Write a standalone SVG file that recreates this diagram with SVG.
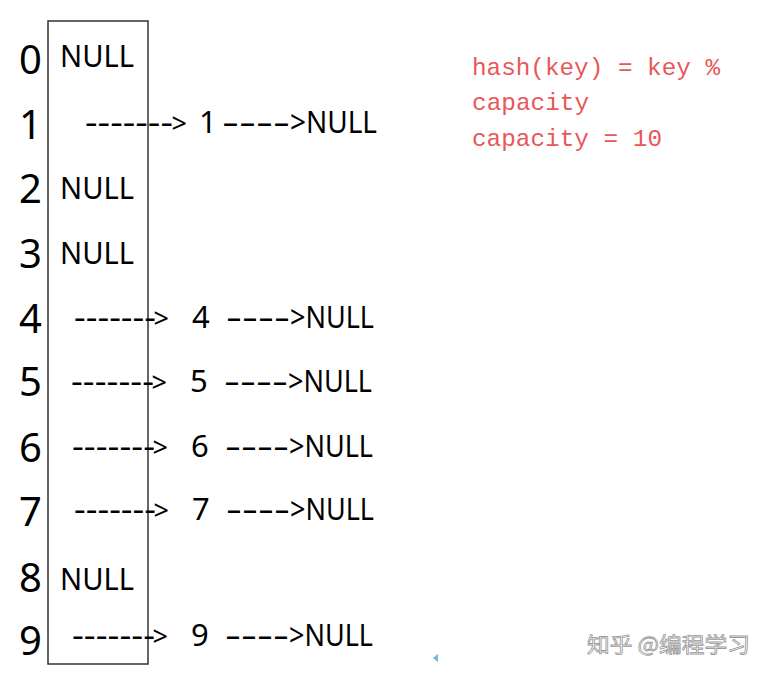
<svg xmlns="http://www.w3.org/2000/svg" width="771" height="675" viewBox="0 0 771 675">
<style>
.idx{font-family:"Noto Sans","Open Sans",sans-serif;font-size:40px;fill:#000}
.t{font-family:"Noto Sans","Open Sans",sans-serif;font-size:31px;fill:#000}
.g{font-size:27px}
.red{font-family:"Liberation Mono","DejaVu Sans Mono",monospace;font-size:24px;fill:#e8575a}
.wm{font-family:"Noto Sans CJK SC",sans-serif;font-size:21px;fill:#fff;stroke:#9a9a9a;stroke-width:0.8}
</style>
<rect width="771" height="675" fill="#fff"/>
<g id="array">
<rect x="48" y="21" width="100" height="643" fill="none" stroke="#333" stroke-width="1.5"/>
</g>
<g id="indices">
<text class="idx" x="19" y="74">0</text>
<text class="idx" x="19" y="139">1</text>
<text class="idx" x="19" y="203">2</text>
<text class="idx" x="19" y="268">3</text>
<text class="idx" x="19" y="333">4</text>
<text class="idx" x="19" y="396">5</text>
<text class="idx" x="19" y="462">6</text>
<text class="idx" x="19" y="526">7</text>
<text class="idx" x="19" y="592">8</text>
<text class="idx" x="19" y="655">9</text>
</g>
<g id="row0"><text class="t" x="60" y="67" textLength="74" lengthAdjust="spacingAndGlyphs">NULL</text></g>
<g id="row1"><text class="t" y="133"><tspan x="85" textLength="88" lengthAdjust="spacingAndGlyphs">-------</tspan><tspan class="g" x="171.5">&gt;</tspan><tspan x="199">1</tspan><tspan x="222" textLength="68" lengthAdjust="spacingAndGlyphs">----</tspan><tspan x="290" textLength="87" lengthAdjust="spacingAndGlyphs">&gt;NULL</tspan></text></g>
<g id="row2"><text class="t" x="60" y="199" textLength="74" lengthAdjust="spacingAndGlyphs">NULL</text></g>
<g id="row3"><text class="t" x="60" y="264" textLength="74" lengthAdjust="spacingAndGlyphs">NULL</text></g>
<g id="row4"><text class="t" y="328"><tspan x="74" textLength="82" lengthAdjust="spacingAndGlyphs">-------</tspan><tspan class="g" x="153.5">&gt;</tspan><tspan x="192">4</tspan><tspan x="226" textLength="64" lengthAdjust="spacingAndGlyphs">----</tspan><tspan x="290" textLength="84" lengthAdjust="spacingAndGlyphs">&gt;NULL</tspan></text></g>
<g id="row5"><text class="t" y="392"><tspan x="71" textLength="83" lengthAdjust="spacingAndGlyphs">-------</tspan><tspan class="g" x="151.5">&gt;</tspan><tspan x="190">5</tspan><tspan x="224" textLength="64" lengthAdjust="spacingAndGlyphs">----</tspan><tspan x="288" textLength="84" lengthAdjust="spacingAndGlyphs">&gt;NULL</tspan></text></g>
<g id="row6"><text class="t" y="457"><tspan x="72" textLength="83" lengthAdjust="spacingAndGlyphs">-------</tspan><tspan class="g" x="152.5">&gt;</tspan><tspan x="191">6</tspan><tspan x="225" textLength="64" lengthAdjust="spacingAndGlyphs">----</tspan><tspan x="289" textLength="84" lengthAdjust="spacingAndGlyphs">&gt;NULL</tspan></text></g>
<g id="row7"><text class="t" y="520"><tspan x="74" textLength="82" lengthAdjust="spacingAndGlyphs">-------</tspan><tspan class="g" x="153.5">&gt;</tspan><tspan x="192">7</tspan><tspan x="226" textLength="64" lengthAdjust="spacingAndGlyphs">----</tspan><tspan x="290" textLength="84" lengthAdjust="spacingAndGlyphs">&gt;NULL</tspan></text></g>
<g id="row8"><text class="t" x="60" y="590" textLength="74" lengthAdjust="spacingAndGlyphs">NULL</text></g>
<g id="row9"><text class="t" y="646"><tspan x="72" textLength="83" lengthAdjust="spacingAndGlyphs">-------</tspan><tspan class="g" x="152.5">&gt;</tspan><tspan x="191">9</tspan><tspan x="225" textLength="64" lengthAdjust="spacingAndGlyphs">----</tspan><tspan x="289" textLength="84" lengthAdjust="spacingAndGlyphs">&gt;NULL</tspan></text></g>
<g id="note">
<text class="red" x="472" y="75" textLength="248" lengthAdjust="spacingAndGlyphs">hash(key) = key %</text>
<text class="red" x="472" y="110" textLength="117" lengthAdjust="spacingAndGlyphs">capacity</text>
<text class="red" x="472" y="146" textLength="190" lengthAdjust="spacingAndGlyphs">capacity = 10</text>
</g>
<g id="watermark">
<text class="wm" x="587" y="652" textLength="163" lengthAdjust="spacingAndGlyphs">知乎 @编程学习</text>
</g>
<polygon points="433,658 438,654 438,662" fill="#6fb6e0"/>
</svg>
